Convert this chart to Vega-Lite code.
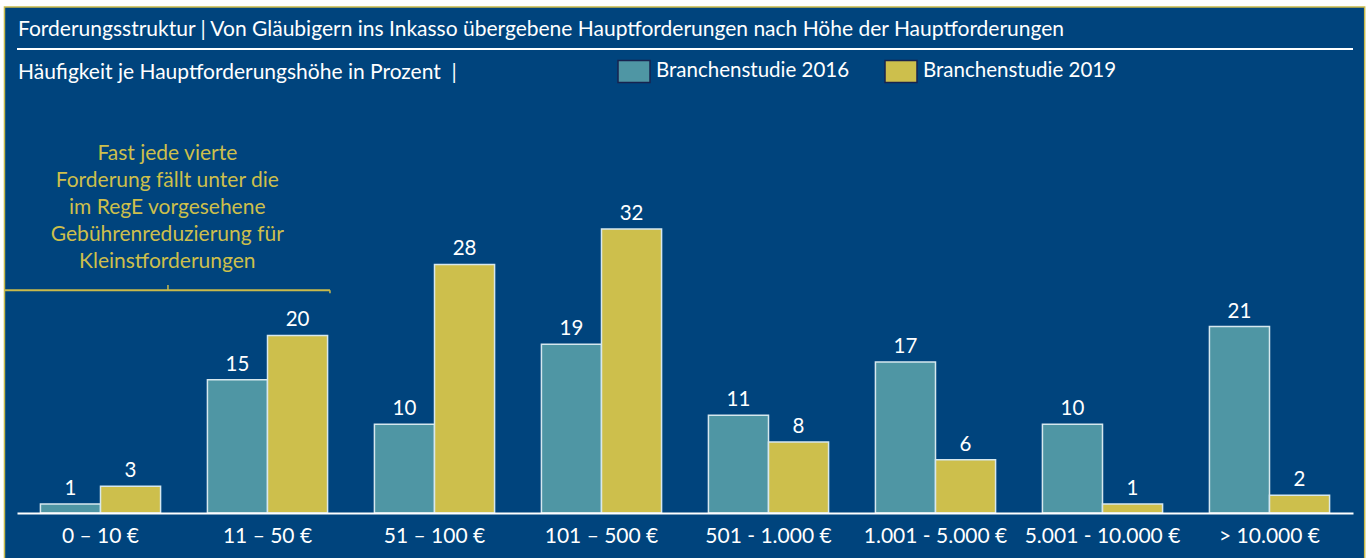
{
  "$schema": "https://vega.github.io/schema/vega-lite/v6.json",
  "autosize": {"type": "none"},
  "width": 1336,
  "height": 464,
  "padding": {"left": 17, "top": 49, "right": 17, "bottom": 45},
  "background": "#00447d",
  "config": {"view": {"stroke": null}, "font": "Lato"},
  "resolve": {"axis": {"x": "independent", "y": "independent"}},
  "title": {
    "text": "Forderungsstruktur | Von Gläubigern ins Inkasso übergebene Hauptforderungen nach Höhe der Hauptforderungen",
    "subtitle": "Häufigkeit je Hauptforderungshöhe in Prozent \u00a0|",
    "anchor": "start",
    "frame": "group",
    "orient": "top",
    "color": "#ffffff",
    "subtitleColor": "#ffffff",
    "font": "Lato",
    "subtitleFont": "Lato",
    "fontSize": 21,
    "subtitleFontSize": 21,
    "fontWeight": "normal",
    "offset": -88,
    "subtitlePadding": 22,
    "dx": 1,
    "dy": 32,
    "zindex": 2
  },
  "datasets": {
    "bars": [
      {"group": "0 – 10 €", "series": "Branchenstudie 2016", "value": 1},
      {"group": "0 – 10 €", "series": "Branchenstudie 2019", "value": 3},
      {"group": "11 – 50 €", "series": "Branchenstudie 2016", "value": 15},
      {"group": "11 – 50 €", "series": "Branchenstudie 2019", "value": 20},
      {"group": "51 – 100 €", "series": "Branchenstudie 2016", "value": 10},
      {"group": "51 – 100 €", "series": "Branchenstudie 2019", "value": 28},
      {"group": "101 – 500 €", "series": "Branchenstudie 2016", "value": 19},
      {"group": "101 – 500 €", "series": "Branchenstudie 2019", "value": 32},
      {"group": "501 - 1.000 €", "series": "Branchenstudie 2016", "value": 11},
      {"group": "501 - 1.000 €", "series": "Branchenstudie 2019", "value": 8},
      {"group": "1.001 - 5.000 €", "series": "Branchenstudie 2016", "value": 17},
      {"group": "1.001 - 5.000 €", "series": "Branchenstudie 2019", "value": 6},
      {"group": "5.001 - 10.000 €", "series": "Branchenstudie 2016", "value": 10},
      {"group": "5.001 - 10.000 €", "series": "Branchenstudie 2019", "value": 1},
      {"group": "> 10.000 €", "series": "Branchenstudie 2016", "value": 21},
      {"group": "> 10.000 €", "series": "Branchenstudie 2019", "value": 2}
    ],
    "note": [
      {"note": "Fast jede vierte\nForderung fällt unter die\nim RegE vorgesehene\nGebührenreduzierung für\nKleinstforderungen"}
    ],
    "one": [{"k": 1}]
  },
  "layer": [
    {
      "data": {"name": "one"},
      "mark": {"type": "rect", "fill": "#ffffff"},
      "encoding": {
        "x": {"datum": "0 – 10 €", "bandPosition": -0.2, "axis": null},
        "x2": {"datum": "> 10.000 €", "bandPosition": 1.2},
        "y": {"datum": 57.0, "axis": null},
        "y2": {"datum": 62}
      }
    },
    {
      "data": {"name": "one"},
      "mark": {"type": "rect", "fill": "#ffffff"},
      "encoding": {
        "x": {"datum": "0 – 10 €", "bandPosition": -0.2, "axis": null},
        "x2": {"datum": "0 – 10 €", "bandPosition": -0.075},
        "y": {"datum": 62, "axis": null},
        "y2": {"datum": -6}
      }
    },
    {
      "data": {"name": "one"},
      "mark": {"type": "rect", "fill": "#ffffff"},
      "encoding": {
        "x": {"datum": "> 10.000 €", "bandPosition": 1.07, "axis": null},
        "x2": {"datum": "> 10.000 €", "bandPosition": 1.2},
        "y": {"datum": 62, "axis": null},
        "y2": {"datum": -6}
      }
    },
    {
      "data": {"name": "one"},
      "mark": {"type": "rect", "fill": "transparent", "stroke": "#c9ba4b", "strokeWidth": 1.5},
      "encoding": {
        "x": {"datum": "0 – 10 €", "bandPosition": -0.075, "axis": null},
        "x2": {"datum": "> 10.000 €", "bandPosition": 1.07},
        "y": {"datum": 57.0, "axis": null},
        "y2": {"datum": -6}
      }
    },
    {
      "data": {"name": "bars"},
      "mark": {"type": "bar", "stroke": "#d6e8ee", "strokeWidth": 1.5},
      "encoding": {
        "x": {
          "field": "group",
          "type": "nominal",
          "sort": null,
          "scale": {
            "domain": ["0 – 10 €", "11 – 50 €", "51 – 100 €", "101 – 500 €", "501 - 1.000 €", "1.001 - 5.000 €", "5.001 - 10.000 €", "> 10.000 €"],
            "paddingInner": 0,
            "paddingOuter": 0
          },
          "axis": {
            "orient": "bottom",
            "title": null,
            "domainColor": "#ffffff",
            "domainWidth": 2,
            "ticks": false,
            "labelColor": "#ffffff",
            "labelFont": "Lato",
            "labelFontSize": 21,
            "labelPadding": 12,
            "labelAngle": 0,
            "zindex": 1
          }
        },
        "xOffset": {
          "field": "series",
          "type": "nominal",
          "scale": {"paddingInner": 0, "paddingOuter": 0.39}
        },
        "y": {
          "field": "value",
          "type": "quantitative",
          "scale": {"domain": [0, 52.28], "nice": false, "zero": true},
          "axis": null
        },
        "color": {
          "field": "series",
          "type": "nominal",
          "scale": {"domain": ["Branchenstudie 2016", "Branchenstudie 2019"], "range": ["#4f96a4", "#cdbf4c"]},
          "legend": {
            "orient": "none",
            "legendX": 600,
            "legendY": 5,
            "direction": "horizontal",
            "title": null,
            "symbolType": "M-1,-0.69L1,-0.69L1,0.69L-1,0.69Z",
            "symbolSize": 1024,
            "symbolOpacity": 1,
            "symbolStrokeColor": "#17234f",
            "symbolStrokeWidth": 1.5,
            "labelColor": "#ffffff",
            "labelFont": "Lato",
            "labelFontSize": 20.5,
            "labelLimit": 400,
            "labelOffset": 5,
            "columnPadding": 32,
            "zindex": 2
          }
        }
      }
    },
    {
      "data": {"name": "bars"},
      "mark": {"type": "text", "color": "#ffffff", "font": "Lato", "fontSize": 20.5, "baseline": "alphabetic", "align": "center", "dy": -9},
      "encoding": {
        "x": {"field": "group", "type": "nominal", "sort": null, "axis": null},
        "xOffset": {"field": "series", "type": "nominal"},
        "y": {"field": "value", "type": "quantitative", "axis": null},
        "text": {"field": "value", "type": "quantitative"}
      }
    },
    {
      "data": {"name": "one"},
      "mark": {"type": "rule", "color": "#ffffff", "strokeWidth": 2},
      "encoding": {"y": {"datum": 52.28, "axis": null}}
    },
    {
      "data": {"name": "one"},
      "mark": {"type": "rule", "color": "#c9ba4b", "strokeWidth": 2},
      "encoding": {
        "x": {"datum": "0 – 10 €", "bandPosition": -0.072, "axis": null},
        "x2": {"datum": "11 – 50 €", "bandPosition": 0.874},
        "y": {"datum": 25.1, "axis": null}
      }
    },
    {
      "data": {"name": "one"},
      "mark": {"type": "rule", "color": "#c9ba4b", "strokeWidth": 1.5},
      "encoding": {
        "x": {"datum": "0 – 10 €", "bandPosition": 0.904, "axis": null},
        "y": {"datum": 25.1, "axis": null},
        "y2": {"datum": 25.7}
      }
    },
    {
      "data": {"name": "one"},
      "mark": {"type": "rule", "color": "#c9ba4b", "strokeWidth": 1.5},
      "encoding": {
        "x": {"datum": "11 – 50 €", "bandPosition": 0.874, "axis": null},
        "y": {"datum": 25.1, "axis": null},
        "y2": {"datum": 24.75}
      }
    },
    {
      "data": {"name": "note"},
      "mark": {"type": "text", "color": "#cdbf4c", "font": "Lato", "fontSize": 21, "align": "center", "baseline": "alphabetic", "lineBreak": "\n", "lineHeight": 27},
      "encoding": {
        "x": {"datum": "0 – 10 €", "bandPosition": 0.9, "axis": null},
        "y": {"datum": 39.8, "axis": null},
        "text": {"field": "note", "type": "nominal"}
      }
    }
  ]
}
